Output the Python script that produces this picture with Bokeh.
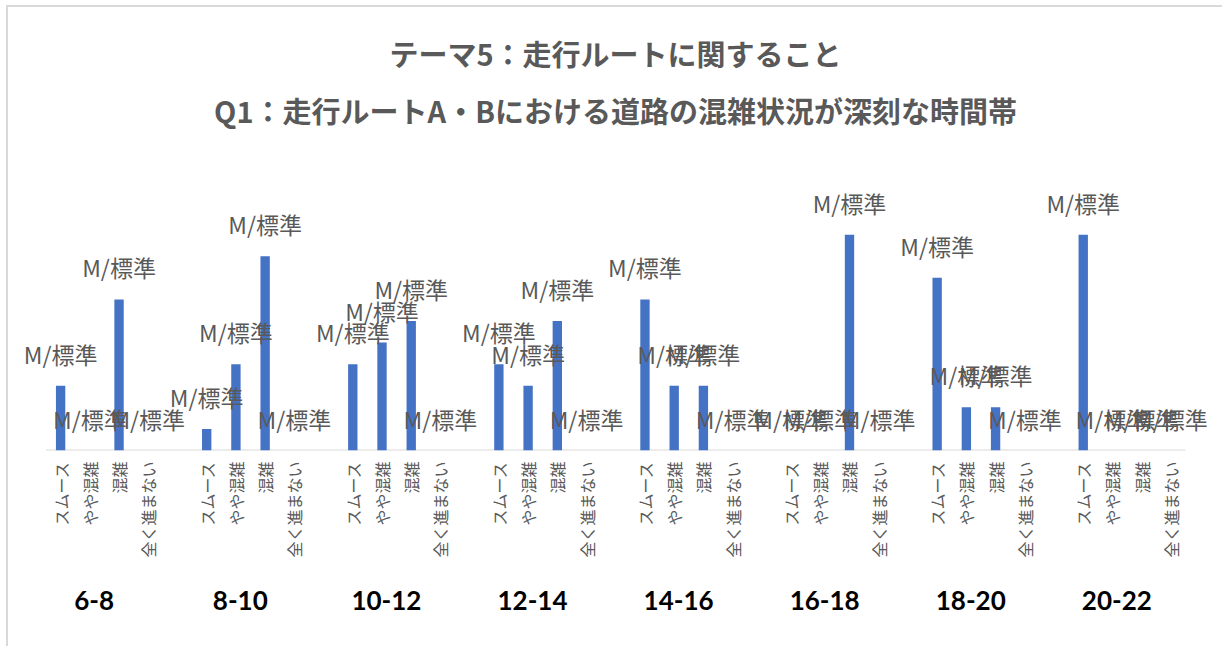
import math

from bokeh.plotting import figure
from bokeh.models import Label, LinearAxis, FixedTicker, Range1d, ColumnDataSource
from bokeh.embed import file_html
from bokeh.resources import INLINE
from bokeh.core.properties import value

# Chart texts
title_main = "テーマ5：走行ルートに関すること"
title_sub = "Q1：走行ルートA・Bにおける道路の混雑状況が深刻な時間帯"
bar_label = "M/標準"

# Time slots (outer categories) and traffic conditions (inner categories)
time_slots = ["6-8", "8-10", "10-12", "12-14", "14-16", "16-18", "18-20", "20-22"]
conditions = ["スムース", "やや混雑", "混雑", "全く進まない"]

# Responses per condition, one value per time slot
smooth = [3, 1, 4, 4, 7, 0, 8, 10]
slightly_congested = [0, 4, 5, 3, 3, 0, 2, 0]
congested = [7, 9, 6, 6, 3, 10, 2, 0]
stalled = [0, 0, 0, 0, 0, 0, 0, 0]

series = [smooth, slightly_congested, congested, stalled]
y_max = 12

# One empty slot separates neighbouring time slots on the x axis
stride = len(conditions) + 1
n_slots = len(time_slots) * stride - 1

xs, counts, names = [], [], []
for gi, slot in enumerate(time_slots):
    for ci, cond in enumerate(conditions):
        xs.append(gi * stride + ci)
        counts.append(series[ci][gi])
        names.append(cond)

source = ColumnDataSource(dict(x=xs, count=counts, name=names,
                               label=[bar_label] * len(xs)))

GREY = "#595959"
JP = "Noto Sans CJK JP"

# Canvas geometry (pixels); the drawing area spans the full canvas above the
# axis labels so that value labels and headings are never clipped.
W, H = 1216, 641
BOTTOM = 198
frame_h = H - BOTTOM
axis_x0, axis_x1 = 37.5, 1177.0      # where the category band starts / ends
value_top = 184.0                    # pixel height reached by y_max
slot_px = (axis_x1 - axis_x0) / n_slots
unit_px = (frame_h - value_top) / y_max

x_start = -0.5 - axis_x0 / slot_px
x_end = n_slots - 0.5 + (W - axis_x1) / slot_px
y_end = frame_h / unit_px

p = figure(width=W, height=H,
           x_range=Range1d(x_start, x_end), y_range=Range1d(0, y_end),
           output_backend="svg", toolbar_location=None,
           x_axis_type=None, y_axis_type=None,
           min_border_left=0, min_border_right=0,
           min_border_top=0, min_border_bottom=BOTTOM)
p.styles = {"border-left": "2px solid #d9d9d9", "border-top": "2px solid #d9d9d9",
            "margin-left": "6px", "margin-top": "5px"}
p.outline_line_color = None
p.xgrid.visible = False
p.ygrid.visible = False
p.background_fill_color = "white"
p.border_fill_color = "white"

# Two-line heading, in screen units from the plot area's lower left
for text, cy in [(title_main, 45), (title_sub, 102)]:
    p.add_layout(Label(x=607, y=frame_h - cy, x_units="screen", y_units="screen",
                       text=text, text_align="center", text_baseline="middle",
                       text_font=JP, text_font_size="29px", text_font_style="bold",
                       text_color=GREY))

# Category axis baseline
p.segment(x0=[-0.5], x1=[n_slots - 0.5], y0=[0], y1=[0],
          line_color="#d9d9d9", line_width=2)

p.vbar(x="x", top="count", width=0.32, source=source,
       fill_color="#4472C4", line_color=None)

p.text(x="x", y="count", text="label", source=source,
       text_align="center", text_baseline="middle", y_offset=-32,
       text_font=value(JP), text_font_size="23px", text_color=GREY)

# Inner category labels, reading upwards from the axis
cond_axis = LinearAxis(ticker=FixedTicker(ticks=xs),
                       major_label_overrides={x: n for x, n in zip(xs, names)})
cond_axis.major_label_orientation = math.pi / 2
cond_axis.major_label_text_font = JP
cond_axis.major_label_text_font_size = "16px"
cond_axis.major_label_text_color = GREY
cond_axis.major_label_standoff = 11
cond_axis.major_tick_line_color = None
cond_axis.major_tick_out = 0
cond_axis.minor_tick_line_color = None
cond_axis.axis_line_color = None
p.add_layout(cond_axis, "below")

# Outer time-slot labels
slot_ticks = [gi * stride + 1.15 for gi in range(len(time_slots))]
slot_axis = LinearAxis(ticker=FixedTicker(ticks=slot_ticks),
                       major_label_overrides={t: s for t, s in zip(slot_ticks, time_slots)})
slot_axis.major_label_text_font = "Lato"
slot_axis.major_label_text_font_size = "26px"
slot_axis.major_label_text_font_style = "bold"
slot_axis.major_label_text_color = "black"
slot_axis.major_label_standoff = 30
slot_axis.major_tick_line_color = None
slot_axis.major_tick_out = 0
slot_axis.minor_tick_line_color = None
slot_axis.axis_line_color = None
p.add_layout(slot_axis, "below")

open("out.html", "w").write(file_html(p, INLINE))
